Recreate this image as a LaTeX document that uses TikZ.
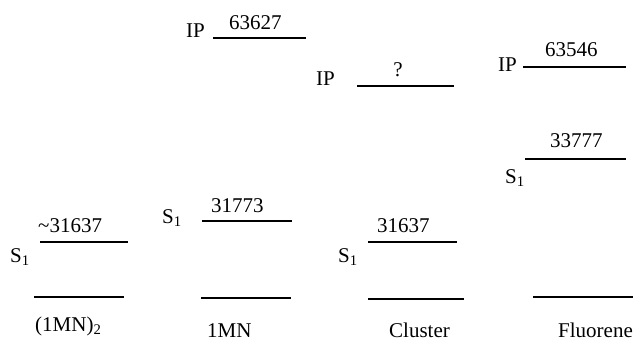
\documentclass[tikz,border=0pt]{standalone}
\usepackage{fontspec}
\setmainfont{Liberation Serif}
\usetikzlibrary{positioning}
\newcommand{\GROUNDY}{297}
\newcommand{\NAMEY}{337}
\newcommand{\DIMERSY}{242}
\newcommand{\MONOSY}{221}
\newcommand{\MONOIPY}{38}
\newcommand{\CLUSSY}{242}
\newcommand{\CLUSIPY}{86}
\newcommand{\FLUSY}{159}
\newcommand{\FLUIPY}{67}

\begin{document}
\begin{tikzpicture}[x=1pt,y=-1pt]
\tikzstyle{every node}=[font=\fontsize{21}{24}\selectfont,inner sep=0pt]
\tikzstyle{level}=[line width=1.1pt]
\useasboundingbox (0,0) rectangle (635,342);

% (1MN)2
	\coordinate (dgl) at (34,\GROUNDY);   \coordinate (dgr) at (124,\GROUNDY);
	\coordinate (dsl) at (40,\DIMERSY);   \coordinate (dsr) at (128,\DIMERSY);
	\draw[level] (dgl) -- (dgr);
	\draw[level] (dsl) -- (dsr);
	\node[anchor=base west] (dsval) at (38,233) {\textasciitilde31637};
	\node[anchor=base west] (dslab) at (10,262) {S\textsubscript{1}};
	\node[anchor=base west] (dname) at (35,331) {(1MN)\textsubscript{2}};

% 1MN
	\coordinate (mgl) at (201,298);       \coordinate (mgr) at (291,298);
	\coordinate (msl) at (202,\MONOSY);   \coordinate (msr) at (292,\MONOSY);
	\coordinate (mil) at (213,\MONOIPY);  \coordinate (mir) at (306,\MONOIPY);
	\draw[level] (mgl) -- (mgr);
	\draw[level] (msl) -- (msr);
	\draw[level] (mil) -- (mir);
	\node[anchor=base west] (msval) at (211,212) {31773};
	\node[anchor=base west] (mslab) at (162,223) {S\textsubscript{1}};
	\node[anchor=base west] (mival) at (229,30) {63627};
	\node[anchor=base west] (milab) at (186,38) {IP};
	\node[anchor=base west] (mname) at (207,\NAMEY) {1MN};

% Cluster
	\coordinate (cgl) at (368,299);       \coordinate (cgr) at (464,299);
	\coordinate (csl) at (368,\CLUSSY);   \coordinate (csr) at (457,\CLUSSY);
	\coordinate (cil) at (357,\CLUSIPY);  \coordinate (cir) at (454,\CLUSIPY);
	\draw[level] (cgl) -- (cgr);
	\draw[level] (csl) -- (csr);
	\draw[level] (cil) -- (cir);
	\node[anchor=base west] (csval) at (377,233) {31637};
	\node[anchor=base west] (cslab) at (338,262) {S\textsubscript{1}};
	\node[anchor=base] (cival) at (398,77) {?};
	\node[anchor=base west] (cilab) at (316,86) {IP};
	\node[anchor=base west] (cname) at (389,\NAMEY) {Cluster};

% Fluorene
	\coordinate (fgl) at (533,\GROUNDY);  \coordinate (fgr) at (633,\GROUNDY);
	\coordinate (fsl) at (525,\FLUSY);    \coordinate (fsr) at (626,\FLUSY);
	\coordinate (fil) at (523,\FLUIPY);   \coordinate (fir) at (626,\FLUIPY);
	\draw[level] (fgl) -- (fgr);
	\draw[level] (fsl) -- (fsr);
	\draw[level] (fil) -- (fir);
	\node[anchor=base west] (fsval) at (550,148) {33777};
	\node[anchor=base west] (fslab) at (505,183) {S\textsubscript{1}};
	\node[anchor=base west] (fival) at (545,57) {63546};
	\node[anchor=base west] (filab) at (498,72) {IP};
	\node[anchor=base west] (fname) at (558,\NAMEY) {Fluorene};

\end{tikzpicture}
\end{document}
